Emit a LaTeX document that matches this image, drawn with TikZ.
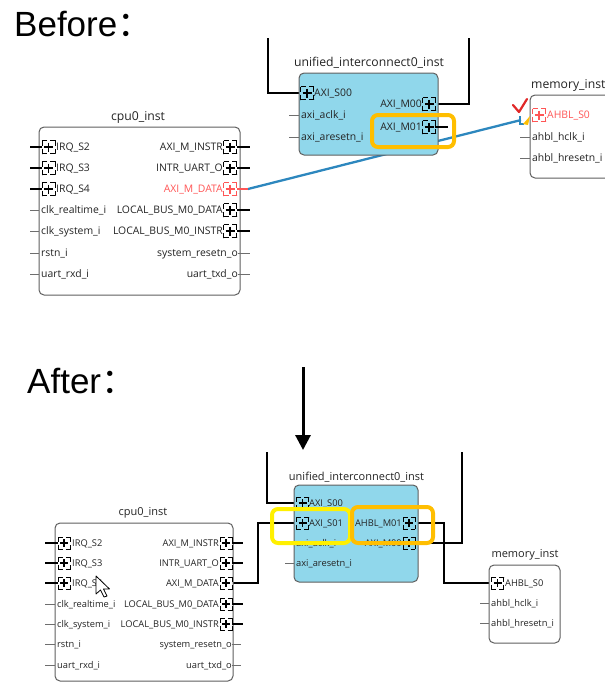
\documentclass[tikz,border=0pt]{standalone}
\usepackage{fontspec}
\setmainfont{Open Sans}
\newfontfamily\headfont{Liberation Sans}
\newfontfamily\cjkfont{Noto Sans CJK SC}
\usetikzlibrary{arrows.meta}
\definecolor{blockfill}{RGB}{144,215,235}
\definecolor{blockline}{RGB}{95,95,95}
\definecolor{hlorange}{RGB}{255,190,0}
\definecolor{hlyellow}{RGB}{255,240,0}
\definecolor{wireblue}{RGB}{45,135,190}
\definecolor{portred}{RGB}{255,85,85}
\definecolor{checkred}{RGB}{225,40,40}
\definecolor{stubgray}{RGB}{110,110,110}
\definecolor{labeltext}{RGB}{35,35,35}
\tikzset{
 pics/busicon/.style={code={
   \draw[#1, line width=0.9pt, dash pattern=on 5pt off 3pt on 5pt off 0pt] (-6.5,-6.5) rectangle (6.5,6.5);
   \draw[#1, line width=1.8pt] (-4.5,0) -- (4.5,0) (0,-4.5) -- (0,4.5);}},
 pics/busicon/.default=black,
 pics/sbusicon/.style={code={
   \draw[#1, line width=0.85pt, dash pattern=on 4.5pt off 3pt on 4.5pt off 0pt] (-6,-6) rectangle (6,6);
   \draw[#1, line width=1.7pt] (-4,0) -- (4,0) (0,-4) -- (0,4);}},
 pics/sbusicon/.default=black,
}
\begin{document}
\begin{tikzpicture}[x=1pt,y=-1pt,
 lbl/.style={inner sep=0pt, font=\fontsize{10.4}{12}\selectfont, text=labeltext, anchor=base west, yshift=-3.7pt},
 lblr/.style={lbl, anchor=base east},
 slbl/.style={inner sep=0pt, font=\fontsize{9.3}{11}\selectfont, text=labeltext, anchor=base west, yshift=-3.3pt},
 slblr/.style={slbl, anchor=base east},
 ttl/.style={inner sep=0pt, font=\fontsize{12.2}{14}\selectfont, text=labeltext},
 sttl/.style={inner sep=0pt, font=\fontsize{11}{13}\selectfont, text=labeltext},
 blockbox/.style={draw=blockline, line width=1pt, rounded corners=5pt, fill=white, inner sep=0pt},
 icbox/.style={blockbox, fill=blockfill},
 wire/.style={line width=1.8pt, black},
 busstub/.style={line width=2pt, black},
 thinstub/.style={line width=0.9pt, stubgray},
 hlbox/.style={line width=4pt, rounded corners=6pt},
 heading/.style={inner sep=0pt, font=\headfont\fontsize{35}{40}\selectfont, anchor=base west},
]
\useasboundingbox (0,0) rectangle (605,683);

% ---------------- headings
\node[heading] (before) at (14,36) {Before{\cjkfont ：}};
\node[heading] (after) at (27,393) {After{\cjkfont ：}};

% ================= BEFORE =================
% wires (behind blocks)
\coordinate (cpuA-data) at (248,189);
\coordinate (memC-in) at (521,120);
\draw[wireblue, line width=2.3pt] (cpuA-data) -- (memC-in);
\coordinate (icB-topL) at (268,38);
\coordinate (icB-s00) at (301,93);
\draw[wire] (icB-topL) |- (icB-s00);
\coordinate (icB-m00) at (435,104);
\coordinate (icB-topR) at (469,38);
\draw[wire] (icB-m00) -| (icB-topR);

% cpu block (top)
\node[blockbox, minimum width=201pt, minimum height=168pt] (cpuA) at (139.5,211) {};
\node[ttl] (cpuA-title) at (138,117) {cpu0\_inst};
\foreach \t/\y [count=\i] in {IRQ\_S2/147,IRQ\_S3/168,IRQ\_S4/189}{
  \draw[busstub] (30,\y) -- (42,\y);
  \pic at (48.5,\y) {busicon};
  \node[lbl] (cpuA-lb\i) at (56,\y) {\t};}
\foreach \t/\y [count=\i] in {clk\_realtime\_i/210,clk\_system\_i/231,rstn\_i/253,uart\_rxd\_i/274}{
  \draw[thinstub] (30,\y) -- (39,\y);
  \node[lbl] (cpuA-lp\i) at (41,\y) {\t};}
\foreach \t/\y [count=\i] in {AXI\_M\_INSTR/147,INTR\_UART\_O/168,LOCAL\_BUS\_M0\_DATA/210,LOCAL\_BUS\_M0\_INSTR/231}{
  \draw[busstub] (237,\y) -- (250,\y);
  \pic at (230,\y) {busicon};
  \node[lblr] (cpuA-rb\i) at (223,\y) {\t};}
\draw[portred, line width=2.6pt] (237,189) -- (cpuA-data);
\pic at (230,189) {busicon=portred};
\node[lblr, text=portred] (cpuA-rdata) at (223,189) {AXI\_M\_DATA};
\foreach \t/\y [count=\i] in {system\_resetn\_o/253,uart\_txd\_o/274}{
  \draw[thinstub] (238,\y) -- (250,\y);
  \node[lblr] (cpuA-rp\i) at (238,\y) {\t};}

% interconnect (top)
\node[icbox, minimum width=139pt, minimum height=82pt] (icB) at (368.5,114) {};
\node[ttl] (icB-title) at (369,63) {unified\_interconnect0\_inst};
\pic at (307,93) {busicon};
\node[lbl] (icB-ls00) at (314,93) {AXI\_S00};
\foreach \t/\y [count=\i] in {axi\_aclk\_i/115,axi\_aresetn\_i/137}{
  \draw[thinstub] (289,\y) -- (299,\y);
  \node[lbl] (icB-lp\i) at (301,\y) {\t};}
\pic at (429,104) {busicon};
\node[lblr] (icB-rm00) at (422,104) {AXI\_M00};
\draw[busstub] (435,127) -- (448,127);
\pic at (429,127) {busicon};
\node[lblr] (icB-rm01) at (422,127) {AXI\_M01};
\draw[hlbox, hlorange] (372,115) rectangle (454,147);

% memory (top)
\node[blockbox, minimum width=120pt, minimum height=83pt] (memC) at (590,136.5) {};
\node[ttl, anchor=west] (memC-title) at (531,85) {memory\_inst};
\pic at (539,115) {busicon=portred};
\node[lbl, text=portred] (memC-ahbl) at (547,115) {AHBL\_S0};
\foreach \t/\y [count=\i] in {ahbl\_hclk\_i/137,ahbl\_hresetn\_i/158}{
  \draw[thinstub] (520,\y) -- (530,\y);
  \node[lbl] (memC-lp\i) at (532,\y) {\t};}
% connection markers
\draw[wireblue, line width=1.8pt] (520,116) -- (520,124) -- (524,124);
\fill[hlorange] (523,124) -- (530,116) -- (528,125) -- cycle;
\draw[checkred, line width=2.2pt, line cap=round, line join=round] (513,105) -- (519,112) -- (527,99);

% ================= AFTER =================
\draw[line width=3pt, -{Triangle[width=15pt,length=15pt]}] (303,367) -- (303,450);

\coordinate (icD-topL) at (267,452);
\coordinate (icD-s00) at (296,503);
\coordinate (icD-s01) at (296,523);
\coordinate (icD-m01) at (415,523);
\coordinate (icD-m00) at (415,543);
\coordinate (icD-topR) at (462,452);
\coordinate (cpuF-data) at (232,583);
\coordinate (memE-in) at (492,583);
\draw[wire] (icD-topL) |- (icD-s00);
\draw[wire] (cpuF-data) -| (258,523) -- (icD-s01);
\draw[wire] (icD-m01) -| (444,583) -- (memE-in);
\draw[wire] (icD-m00) -| (icD-topR);

% interconnect (bottom)
\node[icbox, minimum width=124pt, minimum height=97pt] (icD) at (356,533.5) {};
\node[sttl] (icD-title) at (356.5,477) {unified\_interconnect0\_inst};
\pic at (302.5,503) {sbusicon};
\node[slbl] (icD-ls00) at (309,503) {AXI\_S00};
\pic at (302.5,523) {sbusicon};
\node[slbl] (icD-ls01) at (309,523) {AXI\_S01};
\foreach \t/\y [count=\i] in {axi\_aclk\_i/543,axi\_aresetn\_i/563}{
  \draw[thinstub] (285,\y) -- (294,\y);
  \node[slbl] (icD-lp\i) at (296,\y) {\t};}
\pic at (409,523) {sbusicon};
\node[slblr] (icD-rm01) at (402,523) {AHBL\_M01};
\pic at (409,543) {sbusicon};
\node[slblr] (icD-rm00) at (402,543) {AXI\_M00};

% memory (bottom)
\node[blockbox, minimum width=71pt, minimum height=78pt] (memE) at (524.5,604) {};
\node[sttl] (memE-title) at (525,555) {memory\_inst};
\pic at (497.5,583) {sbusicon};
\node[slbl] (memE-ahbl) at (505,583) {AHBL\_S0};
\foreach \t/\y [count=\i] in {ahbl\_hclk\_i/603,ahbl\_hresetn\_i/623}{
  \draw[thinstub] (480,\y) -- (489,\y);
  \node[slbl] (memE-lp\i) at (491,\y) {\t};}

% cpu (bottom)
\node[blockbox, minimum width=178pt, minimum height=158pt] (cpuF) at (144,602) {};
\node[sttl] (cpuF-title) at (143,513) {cpu0\_inst};
\foreach \t/\y [count=\i] in {IRQ\_S2/543,IRQ\_S3/563,IRQ\_S4/583}{
  \draw[busstub] (45,\y) -- (58,\y);
  \pic at (64,\y) {sbusicon};
  \node[slbl] (cpuF-lb\i) at (72,\y) {\t};}
\foreach \t/\y [count=\i] in {clk\_realtime\_i/604,clk\_system\_i/624,rstn\_i/644,uart\_rxd\_i/665}{
  \draw[thinstub] (45,\y) -- (55,\y);
  \node[slbl] (cpuF-lp\i) at (57,\y) {\t};}
\foreach \t/\y [count=\i] in {AXI\_M\_INSTR/543,INTR\_UART\_O/563,LOCAL\_BUS\_M0\_DATA/604,LOCAL\_BUS\_M0\_INSTR/624}{
  \draw[busstub] (232,\y) -- (243,\y);
  \pic at (226,\y) {sbusicon};
  \node[slblr] (cpuF-rb\i) at (219,\y) {\t};}
\pic at (226,583) {sbusicon};
\node[slblr] (cpuF-rdata) at (219,583) {AXI\_M\_DATA};
\foreach \t/\y [count=\i] in {system\_resetn\_o/644,uart\_txd\_o/665}{
  \draw[thinstub] (232,\y) -- (241,\y);
  \node[slblr] (cpuF-rp\i) at (232,\y) {\t};}

% highlight boxes
\draw[hlbox, hlyellow] (272,509) rectangle (350,543);
\draw[hlbox, hlorange] (352,507) rectangle (433,543);

% mouse cursor
\draw[black, fill=white, line width=0.8pt, line join=round] (96,576) -- (96,594) -- (100.5,590) -- (104,597) -- (107,596) -- (103.5,589) -- (109.5,589) -- cycle;
\end{tikzpicture}
\end{document}
